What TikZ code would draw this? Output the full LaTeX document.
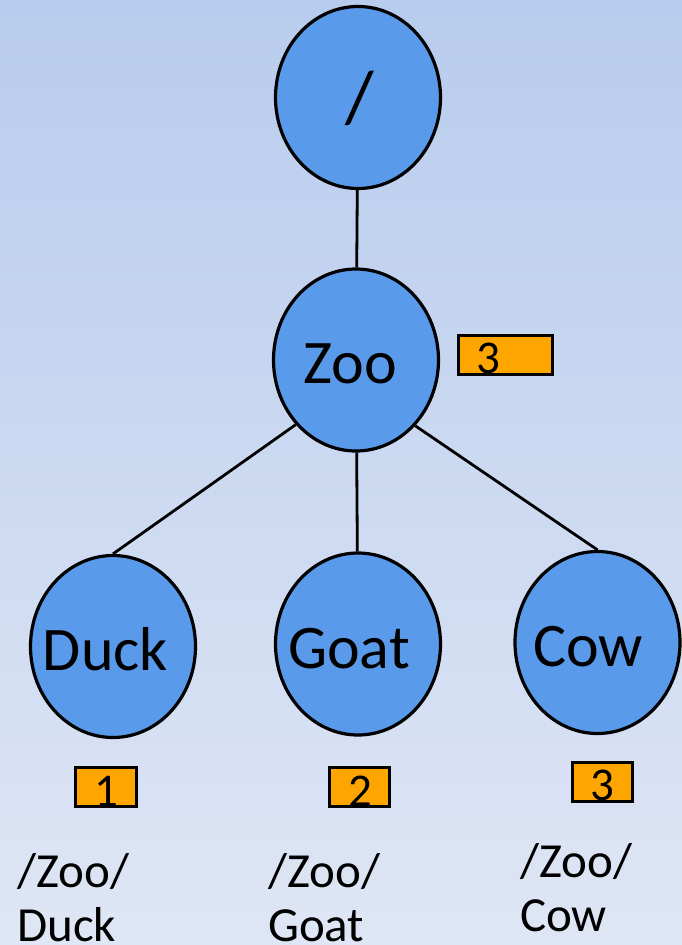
\documentclass[tikz,border=0pt]{standalone}
\usepackage{fontspec}
\setmainfont{Carlito}
\usetikzlibrary{shapes.geometric}
\definecolor{bgtop}{HTML}{B8CCED}
\definecolor{bgbot}{HTML}{DFE6F5}
\definecolor{nodefill}{HTML}{5A9AEA}
\definecolor{tagfill}{HTML}{FFA500}
\begin{document}
\begin{tikzpicture}[x=1pt,y=-1pt,
  treenode/.style={ellipse, draw, line width=3.2pt, fill=nodefill,
    minimum width=165pt, minimum height=182pt, inner sep=0pt},
  nodetext/.style={anchor=base, inner sep=0pt, font=\fontsize{62}{70}\selectfont},
  tagbox/.style={draw, line width=3pt, fill=tagfill, inner sep=0pt},
  tagnum/.style={anchor=base, inner sep=0pt, font=\fontsize{47}{50}\selectfont},
  pathlbl/.style={anchor=north west, align=left, inner sep=0pt,
    font=\fontsize{49}{54}\selectfont},
  edge/.style={line width=2.8pt}]
\useasboundingbox (0,0) rectangle (682,945);
\shade[top color=bgtop, bottom color=bgbot] (0,0) rectangle (682,945);

% tree nodes
\node[treenode] (root) at (358,97.5) {};
\node[treenode] (zoo)  at (356,360) {};
\node[treenode] (duck) at (113,646.5) {};
\node[treenode] (goat) at (358,644) {};
\node[treenode] (cow)  at (597.5,642.5) {};

% node names
\node[nodetext, font=\fontsize{74}{80}\selectfont] (root-t) at (360,122) {/};
\node[nodetext] (zoo-t)  at (350,383) {Zoo};
\node[nodetext] (duck-t) at (105.5,670) {Duck};
\node[nodetext] (goat-t) at (349,668) {Goat};
\node[nodetext] (cow-t)  at (588,666) {Cow};

% edges
\draw[edge] (root) -- (zoo);
\draw[edge] (zoo.227) -- (duck.north);
\draw[edge] (zoo) -- (goat);
\draw[edge] (zoo.312) -- (cow.north);

% counters
\node[tagbox, minimum width=94pt, minimum height=39pt] (tzoo) at (505.5,355) {};
\node[tagnum] (tzoo-n) at (488,373) {3};
\node[tagbox, minimum width=61pt, minimum height=39pt] (tduck) at (106,787) {};
\node[tagnum] (tduck-n) at (106,806) {1};
\node[tagbox, minimum width=60.5pt, minimum height=39pt] (tgoat) at (359.5,787) {};
\node[tagnum] (tgoat-n) at (360,806) {2};
\node[tagbox, minimum width=60.5pt, minimum height=39pt] (tcow) at (602.5,782) {};
\node[tagnum] (tcow-n) at (602,800) {3};

% full paths
\node[pathlbl] (pduck) at (17,853) {/Zoo/\\Duck};
\node[pathlbl] (pgoat) at (268,853) {/Zoo/\\Goat};
\node[pathlbl] (pcow)  at (520,843) {/Zoo/\\Cow};
\end{tikzpicture}
\end{document}
